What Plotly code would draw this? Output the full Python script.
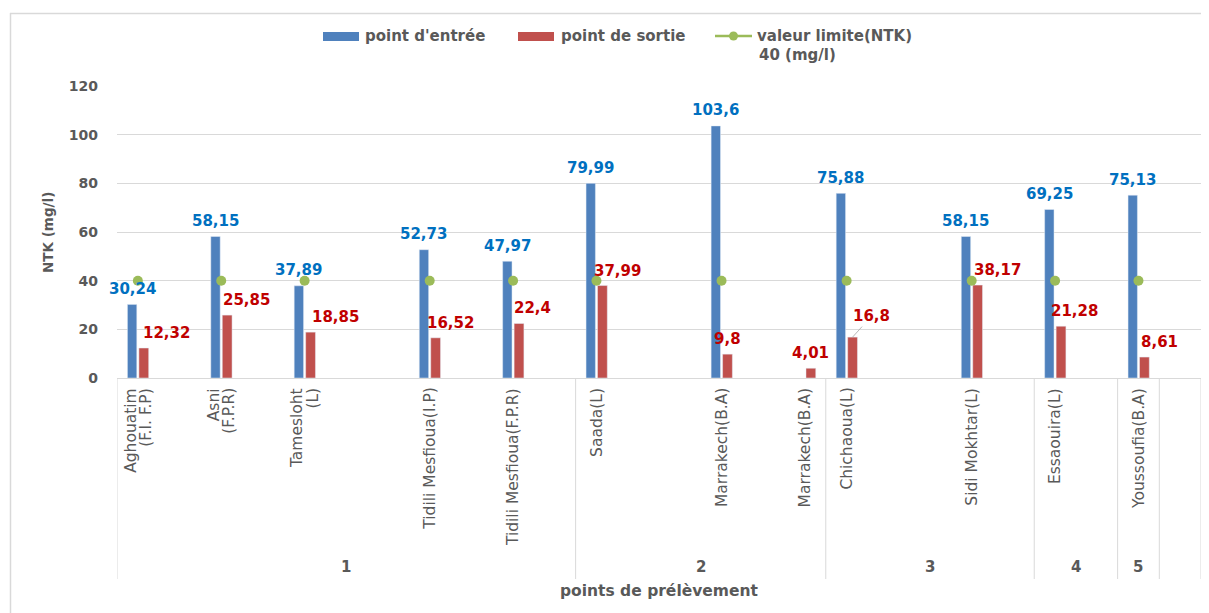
import plotly.graph_objects as go

# ---- data (rows as in the source sheet, blank rows included) ----
sites = ["Aghouatim\n(F.I. F.P)", "", "Asni\n(F.P.R)", "", "Tamesloht\n(L)", "", "",
         "Tidili Mesfioua(I.P)", "", "Tidili Mesfioua(F.P.R)", "",
         "Saada(L)", "", "", "Marrakech(B.A)", "", "Marrakech(B.A)",
         "Chichaoua(L)", "", "", "Sidi Mokhtar(L)", "",
         "Essaouira(L)", "",
         "Youssoufia(B.A)",
         ""]
groups = ["1"] * 11 + ["2"] * 6 + ["3"] * 5 + ["4"] * 2 + ["5"] + [""]
entree = [30.24, None, 58.15, None, 37.89, None, None, 52.73, None, 47.97, None,
          79.99, None, None, 103.6, None, None, 75.88, None, None, 58.15, None,
          69.25, None, 75.13, None]
sortie = [12.32, None, 25.85, None, 18.85, None, None, 16.52, None, 22.4, None,
          37.99, None, None, 9.8, None, 4.01, 16.8, None, None, 38.17, None,
          21.28, None, 8.61, None]
limite = 40
limite_vals = [limite if v is not None else None for v in entree]

# label nudges (pixels) for the red data labels, in order of non-empty values
red_label_dx = [23, 19, 25, 15, 13, 15, 0, 0, 19, 20, 13, 15]

# ---- layout geometry (screen pixels; page body adds an 8px offset) ----
OFF = 8
SW, SH = 1209, 613
W, H = SW - OFF, SH - OFF
PLOT_LEFT, PLOT_RIGHT, PLOT_TOP, PLOT_BOTTOM = 117, 1201, 86, 378
L = PLOT_LEFT - OFF
T = PLOT_TOP - OFF
R = W - (PLOT_RIGHT - OFF)
B = H - (PLOT_BOTTOM - OFF)
PW, PH = W - L - R, H - T - B


def px_x(px):
    return (px - OFF - L) / PW


def px_y(py):
    return (H - B - (py - OFF)) / PH


GRAY = "#595959"
LIGHT = "#D9D9D9"
BLUE, RED, GREEN = "#4F81BD", "#C0504D", "#9BBB59"
BLUE_TXT, RED_TXT = "#0070C0", "#C00000"
FONT = "DejaVu Sans"

x = list(range(len(sites)))
BLUE_OFF, BLUE_W = -0.25, 0.225
RED_OFF, RED_W = 0.025, 0.235

fig = go.Figure()
fig.add_trace(go.Bar(x=x, y=entree, name="point d'entrée", marker_color=BLUE,
                     offset=BLUE_OFF, width=BLUE_W, showlegend=False))
fig.add_trace(go.Bar(x=x, y=sortie, name="point de sortie", marker_color=RED,
                     offset=RED_OFF, width=RED_W, showlegend=False))
fig.add_trace(go.Scatter(x=x, y=limite_vals, name="valeur limite(NTK) 40 (mg/l)",
                         mode="markers", marker=dict(color=GREEN, size=10),
                         showlegend=False))

annotations = []
shapes = []


def fmt(v):
    return ("%g" % v).replace(".", ",")


# data labels
for i, v in enumerate(entree):
    if v is None:
        continue
    annotations.append(dict(x=i + BLUE_OFF + BLUE_W / 2, y=v, xref="x", yref="y",
                            text=fmt(v), showarrow=False, yshift=15.5,
                            xanchor="center", yanchor="middle",
                            font=dict(family=FONT, size=15, color=BLUE_TXT, weight="bold")))
k = 0
for i, v in enumerate(sortie):
    if v is None:
        continue
    dx = red_label_dx[k]
    k += 1
    xc = i + RED_OFF + RED_W / 2
    if sites[i] == "Chichaoua(L)":
        annotations.append(dict(x=xc, y=v, xref="x", yref="y", text=fmt(v),
                                showarrow=True, arrowhead=0, arrowwidth=0.8,
                                arrowcolor="#A6A6A6", ax=dx, ay=-21, standoff=0,
                                font=dict(family=FONT, size=15, color=RED_TXT, weight="bold")))
    else:
        annotations.append(dict(x=xc, y=v, xref="x", yref="y", text=fmt(v),
                                showarrow=False, xshift=dx, yshift=15,
                                xanchor="center", yanchor="middle",
                                font=dict(family=FONT, size=15, color=RED_TXT, weight="bold")))

# rotated category labels
for i, name in enumerate(sites):
    if not name:
        continue
    lines = name.split("\n")
    n = len(lines)
    for j, line in enumerate(lines):
        annotations.append(dict(x=i, y=px_y(386), xref="x", yref="paper", text=line,
                                textangle=-90, showarrow=False, xanchor="center",
                                yanchor="top", xshift=(j - (n - 1) / 2) * 15,
                                font=dict(family=FONT, size=15.5, color=GRAY)))

# group labels and separators
bounds = [-0.5]
gnames = []
for i, g in enumerate(groups):
    if i == 0 or g != groups[i - 1]:
        if i > 0:
            bounds.append(i - 0.5)
        gnames.append(g)
bounds.append(len(groups) - 0.5)
for b in bounds:
    shapes.append(dict(type="line", xref="x", yref="paper", x0=b, x1=b,
                       y0=0, y1=px_y(579), line=dict(color=LIGHT, width=1)))
for gi, g in enumerate(gnames):
    if not g:
        continue
    annotations.append(dict(x=(bounds[gi] + bounds[gi + 1]) / 2, y=px_y(567),
                            xref="x", yref="paper", text=g, showarrow=False,
                            xanchor="center", yanchor="middle",
                            font=dict(family=FONT, size=15, color=GRAY, weight="bold")))

# axis titles
annotations.append(dict(x=0.5, y=px_y(591), xref="paper", yref="paper",
                        text="points de prélèvement", showarrow=False,
                        xanchor="center", yanchor="middle",
                        font=dict(family=FONT, size=15.5, color=GRAY, weight="bold")))
annotations.append(dict(x=px_x(48), y=px_y(233), xref="paper", yref="paper",
                        text="NTK (mg/l)", textangle=-90, showarrow=False,
                        xanchor="center", yanchor="middle",
                        font=dict(family=FONT, size=13.5, color=GRAY, weight="bold")))

# legend (drawn)
leg_y = 36
shapes.append(dict(type="rect", xref="paper", yref="paper", x0=px_x(323), x1=px_x(359),
                   y0=px_y(41), y1=px_y(32), fillcolor=BLUE, line=dict(width=0)))
shapes.append(dict(type="rect", xref="paper", yref="paper", x0=px_x(518), x1=px_x(554),
                   y0=px_y(41), y1=px_y(32), fillcolor=RED, line=dict(width=0)))
shapes.append(dict(type="line", xref="paper", yref="paper", x0=px_x(715), x1=px_x(752),
                   y0=px_y(leg_y), y1=px_y(leg_y), line=dict(color=GREEN, width=2.5)))
shapes.append(dict(type="circle", xref="paper", yref="paper", x0=px_x(729), x1=px_x(738),
                   y0=px_y(40.5), y1=px_y(31.5), fillcolor=GREEN, line=dict(width=0)))
for txt, xx, yy in [("point d'entrée", 363, leg_y), ("point de sortie", 559, leg_y),
                    ("valeur limite(NTK)", 755, leg_y), ("40 (mg/l)", 757, 55)]:
    annotations.append(dict(x=px_x(xx), y=px_y(yy), xref="paper", yref="paper", text=txt,
                            showarrow=False, xanchor="left", yanchor="middle",
                            font=dict(family=FONT, size=15, color=GRAY, weight="bold")))

# outer chart border (top and left visible)
shapes.append(dict(type="line", xref="paper", yref="paper", x0=px_x(10), x1=px_x(1215),
                   y0=px_y(13.5), y1=px_y(13.5), line=dict(color=LIGHT, width=1.5)))
shapes.append(dict(type="line", xref="paper", yref="paper", x0=px_x(10.5), x1=px_x(10.5),
                   y0=px_y(13), y1=px_y(620), line=dict(color=LIGHT, width=1.5)))

fig.update_layout(
    width=W, height=H,
    margin=dict(l=L, r=R, t=T, b=B, pad=0),
    paper_bgcolor="white", plot_bgcolor="white",
    barmode="overlay",
    showlegend=False,
    xaxis=dict(range=[-0.5, len(sites) - 0.5], showticklabels=False, showgrid=False,
               zeroline=False, showline=True, linecolor=LIGHT, linewidth=1, ticks=""),
    yaxis=dict(range=[0, 120], dtick=20, showgrid=True, gridcolor=LIGHT, gridwidth=1,
               zeroline=False, showline=False, ticks="", ticklabelstandoff=18,
               tickfont=dict(family=FONT, size=14, color=GRAY, weight="bold")),
    annotations=annotations,
    shapes=shapes,
)

fig.write_html("out.html")
